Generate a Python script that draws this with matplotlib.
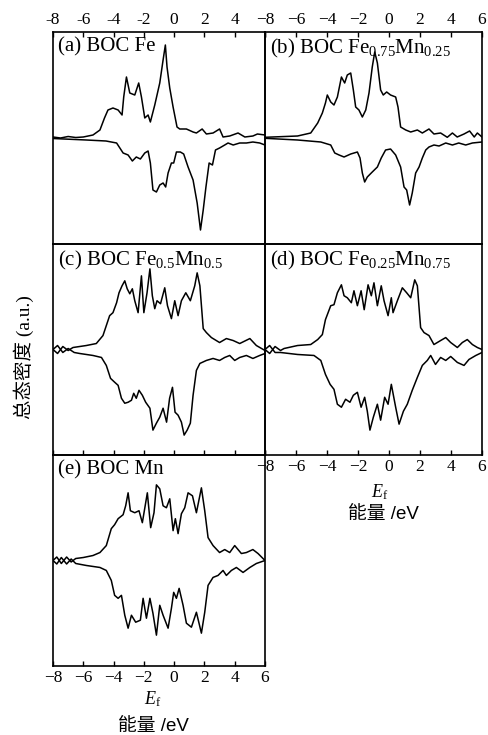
import matplotlib
matplotlib.use("Agg")
import matplotlib.pyplot as plt

plt.rcParams['font.family'] = ['Liberation Serif', 'Noto Sans CJK SC']
plt.rcParams['mathtext.fontset'] = 'custom'
plt.rcParams['mathtext.rm'] = 'Liberation Serif'
plt.rcParams['mathtext.it'] = 'Liberation Serif:italic'

# energy (eV), DOS (a.u.) pairs; spin up > 0, spin down < 0
a_up = [(-8, 0.1), (-7.5, 0.0), (-7.0, 0.15), (-6.5, 0.05), (-6.0, 0.1), (-5.36, 0.3), (-4.9, 0.8),
        (-4.6, 2.0), (-4.37, 2.8), (-4.04, 3.0), (-3.7, 2.8), (-3.44, 2.3), (-3.33, 4.1), (-3.15, 6.1),
        (-2.93, 4.5), (-2.6, 4.3), (-2.34, 5.5), (-2.16, 4.1), (-1.94, 2.0), (-1.72, 2.3), (-1.57, 1.6),
        (-1.28, 3.3), (-0.95, 5.5), (-0.73, 7.8), (-0.58, 9.3), (-0.47, 7.1), (-0.29, 5.0), (-0.07, 3.1),
        (0.19, 1.1), (0.37, 0.9), (0.81, 0.9), (1.25, 0.6), (1.47, 0.5), (1.85, 0.9), (2.13, 0.4),
        (2.57, 0.5), (3.0, 0.9), (3.23, 0.1), (3.67, 0.2), (4.22, 0.5), (4.67, 0.1), (5.2, 0.2),
        (5.5, 0.4), (6.0, 0.3)]
a_down = [(-8, -0.05), (-5.8, -0.2), (-4.5, -0.3), (-3.8, -0.5), (-3.37, -1.5), (-3.04, -1.7),
          (-2.76, -2.3), (-2.5, -1.9), (-2.23, -2.1), (-1.94, -1.5), (-1.72, -1.3), (-1.57, -2.5),
          (-1.4, -5.2), (-1.17, -5.4), (-0.95, -4.7), (-0.73, -4.5), (-0.56, -4.9), (-0.4, -3.5),
          (-0.18, -2.5), (-0.03, -2.5), (0.15, -1.4), (0.41, -1.4), (0.63, -1.6), (0.92, -2.9),
          (1.25, -4.2), (1.52, -6.5), (1.74, -9.2), (1.92, -7.2), (2.1, -4.9), (2.31, -2.5),
          (2.53, -2.7), (2.73, -1.2), (3.0, -1.0), (3.34, -0.7), (3.56, -0.5), (3.9, -0.7),
          (4.33, -0.5), (4.77, -0.5), (5.2, -0.4), (5.65, -0.5), (6.0, -0.7)]

b_up = [(-8, 0.07), (-5.9, 0.2), (-5.05, 0.5), (-4.6, 1.5), (-4.3, 2.5), (-4.1, 3.5), (-3.98, 4.3),
        (-3.76, 3.6), (-3.55, 3.3), (-3.33, 4.1), (-3.07, 6.1), (-2.86, 5.5), (-2.69, 6.3), (-2.47, 6.5),
        (-2.3, 4.8), (-2.15, 3.1), (-1.94, 2.8), (-1.72, 2.1), (-1.5, 2.8), (-1.29, 4.5), (-1.08, 7.1),
        (-0.92, 8.6), (-0.75, 7.5), (-0.54, 4.8), (-0.37, 4.3), (-0.15, 4.6), (0.1, 4.3), (0.43, 4.1),
        (0.58, 3.1), (0.75, 1.1), (1.08, 0.8), (1.4, 0.6), (1.83, 0.8), (2.15, 0.5), (2.58, 0.9),
        (2.9, 0.4), (3.33, 0.5), (3.76, 0.07), (4.09, 0.5), (4.4, 0.1), (4.84, 0.4), (5.2, 0.7),
        (5.5, 0.1), (5.7, 0.5), (6.0, 0.1)]
b_down = [(-8, -0.03), (-5.9, -0.2), (-4.4, -0.4), (-3.76, -0.7), (-3.5, -1.5), (-3.22, -1.7),
          (-2.9, -1.9), (-2.47, -1.6), (-2.04, -1.4), (-1.87, -2.0), (-1.72, -3.5), (-1.57, -4.4),
          (-1.4, -3.9), (-1.08, -3.4), (-0.75, -2.9), (-0.5, -2.0), (-0.22, -1.2), (0.1, -1.1),
          (0.43, -1.7), (0.75, -2.9), (0.97, -4.9), (1.14, -5.2), (1.33, -6.7), (1.5, -5.5),
          (1.72, -3.5), (1.94, -2.9), (2.15, -2.0), (2.37, -1.2), (2.58, -0.9), (2.9, -0.7),
          (3.23, -0.8), (3.66, -0.5), (4.09, -0.7), (4.5, -0.5), (4.95, -0.7), (5.38, -0.5), (6.0, -0.4)]

c_up = [(-8, 0), (-7.7, -0.4), (-7.35, 0.3), (-7.0, -0.1), (-6.68, 0.2), (-5.8, 0.4), (-5.14, 0.6),
        (-4.7, 1.4), (-4.48, 2.4), (-4.26, 3.4), (-4.04, 3.7), (-3.8, 4.7), (-3.64, 5.7), (-3.44, 6.4),
        (-3.26, 6.9), (-3.1, 6.1), (-2.93, 5.6), (-2.76, 6.1), (-2.6, 4.9), (-2.38, 3.7), (-2.16, 7.4),
        (-2.0, 3.7), (-1.79, 5.7), (-1.6, 8.1), (-1.44, 5.4), (-1.28, 4.1), (-1.13, 4.9), (-0.9, 4.6),
        (-0.62, 6.2), (-0.44, 4.4), (-0.18, 3.1), (0.04, 4.9), (0.26, 3.4), (0.48, 4.9), (0.77, 5.7),
        (1.07, 4.9), (1.36, 6.4), (1.52, 7.7), (1.7, 6.4), (1.92, 2.1), (2.13, 1.7), (2.46, 1.2),
        (3.0, 0.7), (3.45, 1.1), (3.9, 0.9), (4.33, 0.6), (5.0, 1.1), (5.43, 0.4), (6.0, -0.1)]
c_down = [(-8, 0), (-7.7, 0.4), (-7.35, -0.3), (-7.0, 0.1), (-6.6, -0.3), (-6.24, -0.4), (-5.36, -0.6),
          (-4.8, -0.8), (-4.48, -1.6), (-4.2, -2.9), (-3.92, -3.3), (-3.7, -3.6), (-3.48, -4.9),
          (-3.26, -5.4), (-3.04, -5.3), (-2.82, -5.1), (-2.67, -4.4), (-2.5, -4.9), (-2.32, -4.1),
          (-2.1, -4.6), (-1.88, -5.3), (-1.6, -5.9), (-1.4, -8.1), (-1.17, -7.4), (-0.95, -6.8),
          (-0.73, -5.9), (-0.5, -7.3), (-0.3, -4.9), (-0.11, -3.8), (0.06, -6.3), (0.26, -6.6),
          (0.48, -7.3), (0.66, -8.6), (0.86, -8.1), (1.07, -7.4), (1.25, -4.6), (1.47, -2.1),
          (1.7, -1.4), (2.13, -1.1), (2.57, -0.9), (3.0, -1.1), (3.34, -0.8), (3.67, -0.6),
          (4.0, -1.1), (4.33, -0.8), (4.77, -0.6), (5.2, -0.9), (5.65, -0.6), (6.0, -0.4)]

d_up = [(-8, 0), (-7.7, -0.4), (-7.35, 0.3), (-7.0, -0.1), (-6.77, 0.1), (-5.9, 0.4), (-5.05, 0.5),
        (-4.6, 1.0), (-4.3, 1.5), (-4.1, 3.0), (-3.76, 4.4), (-3.55, 4.5), (-3.33, 5.7), (-3.07, 6.5),
        (-2.9, 5.4), (-2.69, 5.2), (-2.43, 4.7), (-2.26, 5.9), (-2.04, 4.4), (-1.8, 5.9), (-1.6, 4.0),
        (-1.35, 6.5), (-1.14, 5.4), (-0.97, 6.7), (-0.75, 4.4), (-0.5, 6.4), (-0.32, 4.9), (-0.06, 3.4),
        (0.15, 5.2), (0.26, 3.7), (0.54, 4.9), (0.86, 6.2), (1.14, 5.7), (1.4, 5.2), (1.66, 7.0),
        (1.83, 6.4), (2.04, 2.2), (2.26, 1.7), (2.58, 1.4), (2.9, 0.5), (3.33, 0.9), (3.66, 1.2),
        (3.98, 0.7), (4.41, 0.2), (4.73, 0.7), (5.05, 1.0), (5.38, 0.5), (5.7, 0.2), (6.0, 0)]
d_down = [(-8, 0), (-7.7, 0.4), (-7.35, -0.3), (-7.0, -0.3), (-5.9, -0.5), (-4.84, -0.6), (-4.4, -1.1),
          (-4.1, -2.5), (-3.8, -3.5), (-3.55, -4.0), (-3.33, -5.5), (-3.07, -5.8), (-2.8, -5.0),
          (-2.52, -5.3), (-2.3, -4.6), (-2.04, -4.3), (-1.8, -5.8), (-1.57, -4.8), (-1.4, -6.2),
          (-1.23, -8.1), (-1.01, -6.8), (-0.75, -5.5), (-0.54, -7.1), (-0.28, -4.8), (-0.06, -5.5),
          (0.15, -3.5), (0.43, -5.8), (0.65, -7.5), (0.93, -6.2), (1.18, -5.5), (1.5, -4.1),
          (1.83, -2.8), (2.15, -1.6), (2.47, -1.1), (2.69, -0.6), (3.0, -1.5), (3.33, -0.8),
          (3.66, -1.1), (3.98, -0.7), (4.41, -1.3), (4.84, -1.6), (5.16, -1.0), (5.6, -0.6), (6.0, -0.3)]

e_up = [(-8, 0), (-7.75, 0.35), (-7.45, -0.3), (-7.1, 0.35), (-6.8, -0.15), (-6.5, 0.2), (-6.0, 0.3),
        (-5.36, 0.5), (-4.9, 0.8), (-4.48, 1.5), (-4.15, 3.2), (-3.93, 3.6), (-3.7, 4.2), (-3.37, 4.6),
        (-3.2, 5.5), (-3.04, 6.8), (-2.89, 5.0), (-2.6, 4.8), (-2.32, 5.0), (-2.1, 3.8), (-1.88, 5.8),
        (-1.77, 6.8), (-1.55, 3.3), (-1.33, 4.8), (-1.17, 7.6), (-0.95, 7.2), (-0.73, 5.5), (-0.51, 5.3),
        (-0.29, 6.2), (-0.07, 3.0), (0.08, 4.2), (0.26, 2.7), (0.48, 4.7), (0.7, 5.3), (0.92, 6.8),
        (1.21, 6.5), (1.47, 4.8), (1.8, 7.3), (2.02, 5.0), (2.24, 2.3), (2.57, 1.5), (3.0, 0.8),
        (3.34, 1.1), (3.67, 0.8), (4.0, 1.5), (4.44, 0.7), (4.77, 0.8), (5.2, 1.1), (5.54, 0.7), (6.0, 0)]
e_down = [(-8, 0), (-7.75, -0.35), (-7.45, 0.3), (-7.1, -0.35), (-6.8, 0.15), (-6.5, -0.3), (-5.8, -0.5),
          (-4.9, -0.7), (-4.48, -1.0), (-4.15, -2.0), (-3.93, -3.5), (-3.7, -3.8), (-3.48, -3.5),
          (-3.26, -5.5), (-3.04, -6.8), (-2.82, -5.5), (-2.54, -6.2), (-2.23, -6.0), (-2.05, -3.8),
          (-1.83, -5.8), (-1.6, -3.8), (-1.4, -5.3), (-1.17, -7.5), (-0.95, -4.5), (-0.73, -5.5),
          (-0.4, -6.8), (-0.18, -4.8), (-0.03, -3.2), (0.15, -3.8), (0.33, -2.8), (0.59, -4.5),
          (0.81, -6.3), (1.14, -6.7), (1.47, -5.2), (1.8, -7.3), (2.02, -5.2), (2.24, -2.5),
          (2.57, -1.7), (2.9, -1.5), (3.23, -1.0), (3.45, -1.5), (3.78, -1.0), (4.11, -0.7),
          (4.55, -1.2), (5.0, -0.7), (5.43, -0.3), (6.0, 0)]

labels = {
    'a': '(a) BOC Fe',
    'b': '(b) BOC Fe$_{0.75}$Mn$_{0.25}$',
    'c': '(c) BOC Fe$_{0.5}$Mn$_{0.5}$',
    'd': '(d) BOC Fe$_{0.25}$Mn$_{0.75}$',
    'e': '(e) BOC Mn',
}
ticks = [-8, -6, -4, -2, 0, 2, 4, 6]

W, H = 489, 735
fig = plt.figure(figsize=(W / 100, H / 100), dpi=100)

def box(x0, y0, x1, y1):
    # pixel box (top-left origin) -> figure fraction
    return [x0 / W, 1 - y1 / H, (x1 - x0) / W, (y1 - y0) / H]

panels = {
    'a': (box(53, 32, 265, 244), a_up, a_down),
    'b': (box(265, 32, 482, 244), b_up, b_down),
    'c': (box(53, 244, 265, 455), c_up, c_down),
    'd': (box(265, 244, 482, 455), d_up, d_down),
    'e': (box(53, 455, 265, 666), e_up, e_down),
}

for key, (rect, up, down) in panels.items():
    ax = fig.add_axes(rect)
    ax.patch.set_visible(False)
    for curve in (up, down):
        ax.plot([p[0] for p in curve], [p[1] for p in curve], color='black', lw=1.1)
    ax.set_xlim(-8, 6)
    ax.set_ylim(-10.6, 10.6)
    ax.set_yticks([])
    for s in ax.spines.values():
        s.set_linewidth(1.2)
    ax.set_xticks(ticks)
    ax.tick_params(axis='x', direction='in', length=3.5, width=1, labelsize=12.5, pad=3)
    if key in ('a', 'b'):
        ax.tick_params(axis='x', top=True, bottom=False, labeltop=True, labelbottom=False)
        if key == 'a':
            ax.set_xticklabels([str(t) if t < 6 else '' for t in ticks])
    elif key == 'c':
        ax.tick_params(axis='x', labelbottom=False)
    ax.text(0.025, 0.975, labels[key], transform=ax.transAxes, ha='left', va='top', fontsize=15)

cjk = ['Liberation Sans', 'Noto Sans CJK SC']
fig.text(153 / W, 1 - 699 / H, '$E_{\\rm f}$', ha='center', va='center', fontsize=13)
fig.text(153 / W, 1 - 726 / H, '能量 /eV', ha='center', va='center', fontsize=13.5, family=cjk)
fig.text(380 / W, 1 - 492 / H, '$E_{\\rm f}$', ha='center', va='center', fontsize=13)
fig.text(383 / W, 1 - 515 / H, '能量 /eV', ha='center', va='center', fontsize=13.5, family=cjk)
fig.text(24 / W, 1 - 357 / H, '总态密度 (a.u.)', rotation=90, ha='center', va='center',
         fontsize=14, family=['Liberation Serif', 'Noto Sans CJK SC'])

fig.savefig('out.png', dpi=100)
